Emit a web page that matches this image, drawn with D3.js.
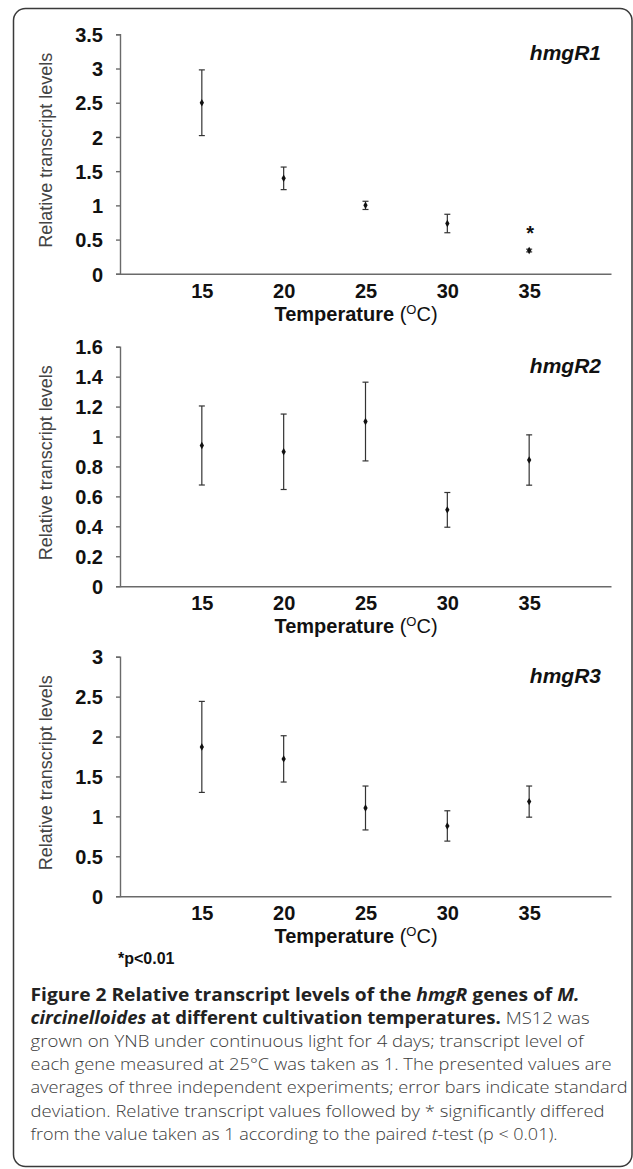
<!DOCTYPE html>
<html><head><meta charset="utf-8">
<script src="https://cdn.jsdelivr.net/npm/d3@7"></script>
<style>
html,body{margin:0;padding:0;background:#fff;}
svg{display:block;}
</style></head>
<body>
<svg id="chart" width="633" height="1169"></svg>
<script>
// ---------- data ----------
const temperatures = [15, 20, 25, 30, 35];
const genes = ["hmgR1", "hmgR2", "hmgR3"];
const hmgR1Mean = [2.50, 1.395, 1.00, 0.735, 0.34];
const hmgR1SD   = [0.48, 0.165, 0.06, 0.135, 0.02];
const hmgR1Sig  = [false, false, false, false, true];
const hmgR2Mean = [0.94, 0.898, 1.10, 0.51, 0.843];
const hmgR2SD   = [0.264, 0.252, 0.263, 0.116, 0.168];
const hmgR2Sig  = [false, false, false, false, false];
const hmgR3Mean = [1.87, 1.72, 1.105, 0.88, 1.185];
const hmgR3SD   = [0.57, 0.29, 0.275, 0.19, 0.195];
const hmgR3Sig  = [false, false, false, false, false];
const yMax = [3.5, 1.6, 3];
const yStep = [0.5, 0.2, 0.5];
const yTickLabels = [
  ["0","0.5","1","1.5","2","2.5","3","3.5"],
  ["0","0.2","0.4","0.6","0.8","1","1.2","1.4","1.6"],
  ["0","0.5","1","1.5","2","2.5","3"]
];
const xDomain = [10, 40];
const yTitle = "Relative transcript levels";
const sigNote = "*p<0.01";

const panels = [
  {gene: genes[0], mean: hmgR1Mean, sd: hmgR1SD, sig: hmgR1Sig},
  {gene: genes[1], mean: hmgR2Mean, sd: hmgR2SD, sig: hmgR2Sig},
  {gene: genes[2], mean: hmgR3Mean, sd: hmgR3SD, sig: hmgR3Sig}
];
const panelTops = [34.3, 346.7, 656.7];
const panelH = 239.5;

const svg = d3.select("#chart");
const FONT = "'Liberation Sans', Arial, sans-serif";

// frame
svg.append("rect").attr("x", 13.5).attr("y", 8.5).attr("width", 618.5).attr("height", 1158)
  .attr("rx", 12).attr("fill", "none").attr("stroke", "#3a3a3a").attr("stroke-width", 1.5);

const x = d3.scaleLinear().domain(xDomain).range([120, 611]);

panels.forEach((p, i) => {
  const top = panelTops[i];
  const y = d3.scaleLinear().domain([0, yMax[i]]).range([top + panelH, top]);
  const g = svg.append("g");
  const ticks = d3.range(0, yMax[i] + 1e-9, yStep[i]);

  // y axis
  const ya = g.append("g").attr("transform", `translate(${x.range()[0]},0)`)
    .call(d3.axisLeft(y).tickValues(ticks).tickSize(4).tickPadding(13)
      .tickFormat((d, k) => yTickLabels[i][k]));
  ya.select(".domain").attr("stroke", "#6a6a6a").attr("stroke-width", 1.4);
  ya.selectAll(".tick line").attr("stroke", "#6a6a6a").attr("stroke-width", 1.4);
  ya.selectAll(".tick text").attr("font-family", FONT).attr("font-weight", "bold")
    .attr("font-size", 20).attr("fill", "#111").attr("dy", "0.36em");

  // x axis
  const xa = g.append("g").attr("transform", `translate(0,${y(0)})`)
    .call(d3.axisBottom(x).tickValues(temperatures).tickSize(0).tickPadding(10)
      .tickFormat(d3.format("d")));
  xa.select(".domain").attr("stroke", "#6a6a6a").attr("stroke-width", 1.4);
  xa.selectAll(".tick text").attr("font-family", FONT).attr("font-weight", "bold")
    .attr("font-size", 20).attr("fill", "#111").attr("dy", "0.71em");

  // x title
  const xt = g.append("text").attr("x", 356).attr("y", y(0) + 47)
    .attr("text-anchor", "middle").attr("font-family", FONT).attr("font-size", 20).attr("fill", "#111");
  xt.append("tspan").attr("font-weight", "bold").text("Temperature");
  xt.append("tspan").text(" (");
  xt.append("tspan").attr("font-size", 13).attr("dy", -7).text("O");
  xt.append("tspan").attr("dy", 7).text("C)");

  // y title
  g.append("text").attr("transform", `translate(52,${top + 116}) rotate(-90)`)
    .attr("text-anchor", "middle").attr("font-family", FONT).attr("font-size", 18)
    .attr("fill", "#444").text(yTitle);

  // gene label
  g.append("text").attr("x", 601).attr("y", top + 26).attr("text-anchor", "end")
    .attr("font-family", FONT).attr("font-weight", "bold").attr("font-style", "italic")
    .attr("font-size", 21).attr("fill", "#111").text(p.gene);

  const data = temperatures.map((t, k) => ({t, m: p.mean[k], s: p.sd[k], sig: p.sig[k]}));

  // error bars
  const eb = g.append("g").attr("stroke", "#333").attr("stroke-width", 1.2).attr("fill", "none");
  eb.selectAll("line.v").data(data).join("line").attr("class", "v")
    .attr("x1", d => x(d.t)).attr("x2", d => x(d.t))
    .attr("y1", d => y(d.m + d.s)).attr("y2", d => y(d.m - d.s));
  eb.selectAll("line.t").data(data).join("line").attr("class", "t")
    .attr("x1", d => x(d.t) - 3).attr("x2", d => x(d.t) + 3)
    .attr("y1", d => y(d.m + d.s)).attr("y2", d => y(d.m + d.s));
  eb.selectAll("line.b").data(data).join("line").attr("class", "b")
    .attr("x1", d => x(d.t) - 3).attr("x2", d => x(d.t) + 3)
    .attr("y1", d => y(d.m - d.s)).attr("y2", d => y(d.m - d.s));

  // markers
  g.selectAll("path.mk").data(data).join("path").attr("class", "mk")
    .attr("d", d3.symbol(d3.symbolDiamond).size(16))
    .attr("transform", d => `translate(${x(d.t)},${y(d.m)})`)
    .attr("fill", "#111");

  // significance
  g.selectAll("text.sig").data(data.filter(d => d.sig)).join("text").attr("class", "sig")
    .attr("x", d => x(d.t) + 1).attr("y", d => y(d.m) - 11)
    .attr("text-anchor", "middle").attr("font-family", FONT).attr("font-weight", "bold")
    .attr("font-size", 20).attr("fill", "#111").text("*");
});

svg.append("text").attr("x", 118).attr("y", 964).attr("font-family", FONT)
  .attr("font-weight", "bold").attr("font-size", 16).attr("fill", "#111").text(sigNote);

// ---------- caption ----------
const capFont = "'Open Sans', 'Noto Sans', sans-serif";
const captionLines = [
  [["Figure 2 Relative transcript levels of the ", "b"], ["hmgR", "bi"], [" genes of ", "b"], ["M.", "bi"]],
  [["circinelloides", "bi"], [" at different cultivation temperatures.", "b"], [" MS12 was", "r"]],
  [["grown on YNB under continuous light for 4 days; transcript level of", "r"]],
  [["each gene measured at 25\u00b0C was taken as 1. The presented values are", "r"]],
  [["averages of three independent experiments; error bars indicate standard", "r"]],
  [["deviation. Relative transcript values followed by * significantly differed", "r"]],
  [["from the value taken as 1 according to the paired ", "r"], ["t", "i"], ["-test (p < 0.01).", "r"]]
];
const captionWidths = [549, 559, 553, 581, 597, 574, 527];
const captionBase = [1001, 1024, 1047, 1070, 1093, 1117, 1140];
captionLines.forEach((line, k) => {
  const t = svg.append("text").attr("x", 30.6).attr("y", captionBase[k])
    .attr("font-family", capFont).attr("font-size", 17);
  line.forEach(([s, st]) => {
    const ts = t.append("tspan").text(s);
    if (st.includes("b")) ts.attr("font-weight", 700).attr("fill", "#222");
    else ts.attr("font-weight", 300).attr("fill", "#3a3a3a");
    if (st.includes("i")) ts.attr("font-style", "italic");
  });
  t.attr("textLength", captionWidths[k]).attr("lengthAdjust", "spacingAndGlyphs");
});
</script>
</body></html>
